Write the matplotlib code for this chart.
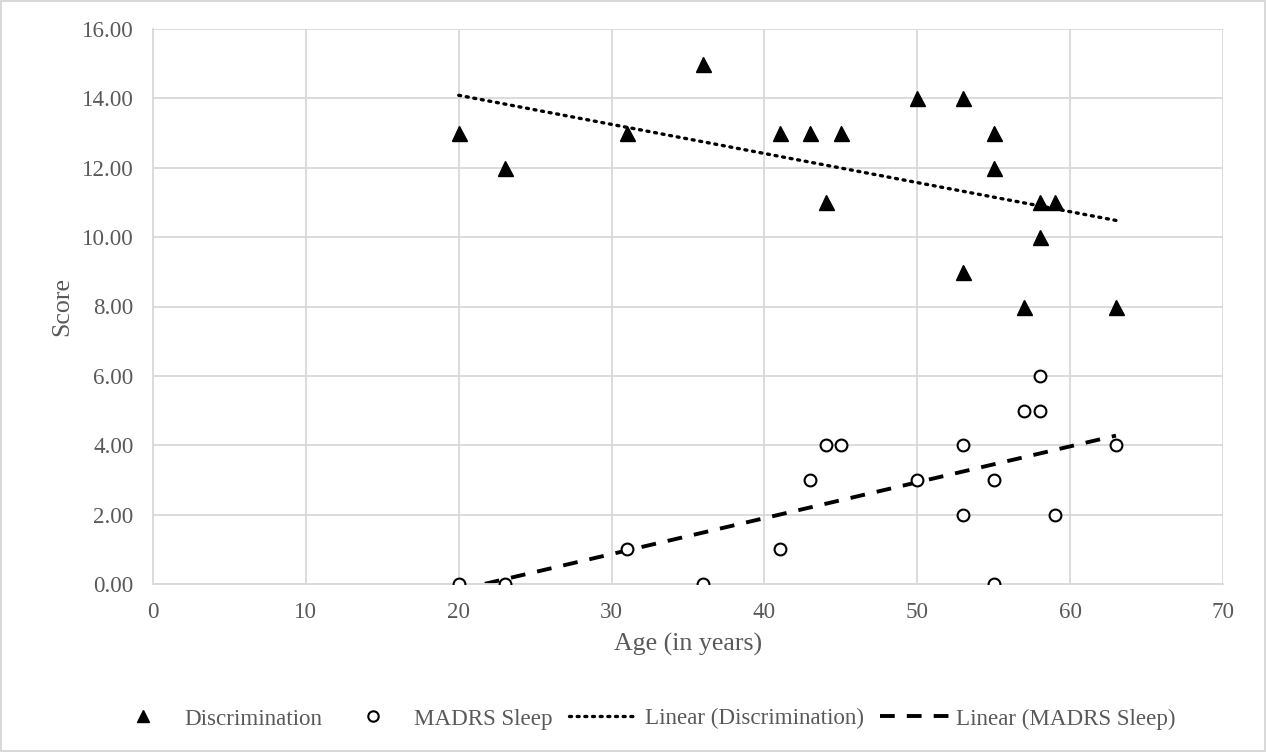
import numpy as np
import matplotlib
matplotlib.use('Agg')
import matplotlib.pyplot as plt
from matplotlib.lines import Line2D

age = [20, 23, 31, 36, 41, 43, 44, 45, 50, 53, 53, 55, 55, 57, 58, 58, 59, 63]
discrimination = [13, 12, 13, 15, 13, 13, 11, 13, 14, 14, 9, 13, 12, 8, 11, 10, 11, 8]
madrs_sleep = [0, 0, 1, 0, 1, 3, 4, 4, 3, 4, 2, 3, 0, 5, 6, 5, 2, 4]

plt.rcParams['font.family'] = ['Liberation Serif', 'DejaVu Serif']
txt = '#595959'
grid_c = '#d9d9d9'
fs = 16.6

dot_style = (0, (0.6, 1.7))
dash_style = (0, (3.8, 3.1))

fig = plt.figure(figsize=(12.66, 7.52), dpi=100)
fig.patch.set_edgecolor(grid_c)
fig.patch.set_linewidth(1.5)
ax = fig.add_axes([153 / 1266, 1 - 584 / 752, 1070 / 1266, 555 / 752])

x = np.array(age, dtype=float)
ax.plot(x, discrimination, '^', color='black', ms=10.8, zorder=3)
ax.plot(x, madrs_sleep, 'o', mfc='white', mec='black', mew=1.5, ms=8.5, zorder=3)

# linear trendlines over the data range
xs = np.linspace(x.min(), x.max(), 100)
p1 = np.polyfit(x, discrimination, 1)
p2 = np.polyfit(x, madrs_sleep, 1)
ax.plot(xs, np.polyval(p1, xs), color='black', lw=2.4, linestyle=dot_style,
        dash_capstyle='round', zorder=2)
ax.plot(xs, np.polyval(p2, xs), color='black', lw=2.8, linestyle=dash_style, zorder=2)

ax.set_xlim(0, 70)
ax.set_ylim(0, 16)
ax.set_xticks(range(0, 71, 10))
ax.set_yticks(range(0, 17, 2))
ax.set_yticklabels(['%.2f' % v for v in range(0, 17, 2)])
ax.grid(True, color=grid_c, lw=1.3)
ax.set_axisbelow(True)
for s in ['top', 'right']:
    ax.spines[s].set_visible(False)
for s in ['left', 'bottom']:
    ax.spines[s].set_color(grid_c)
    ax.spines[s].set_linewidth(1.3)
ax.tick_params(axis='y', length=0, labelsize=fs, colors=txt, pad=14)
ax.tick_params(axis='x', length=0, labelsize=fs, colors=txt, pad=13)
ax.set_xlabel('Age (in years)', fontsize=18.6, color=txt, labelpad=7)
ax.set_ylabel('Score', fontsize=18.6, color=txt, labelpad=6)

handles = [
    Line2D([], [], marker='^', color='black', ls='none', ms=9),
    Line2D([], [], marker='o', mfc='white', mec='black', mew=1.5, ls='none', ms=7.5),
    Line2D([], [], color='black', lw=2.4, linestyle=dot_style, dash_capstyle='round'),
    Line2D([], [], color='black', lw=2.8, linestyle=dash_style),
]
labels = ['Discrimination', 'MADRS Sleep', 'Linear (Discrimination)', 'Linear (MADRS Sleep)']
leg = fig.legend(handles, labels, loc='center', bbox_to_anchor=(0.507, 0.044), ncol=4,
                 frameon=False, fontsize=fs, handlelength=3.0, handletextpad=0.3,
                 columnspacing=0.7, borderpad=0)
for t in leg.get_texts():
    t.set_color(txt)

fig.savefig('out.png', dpi=100)
